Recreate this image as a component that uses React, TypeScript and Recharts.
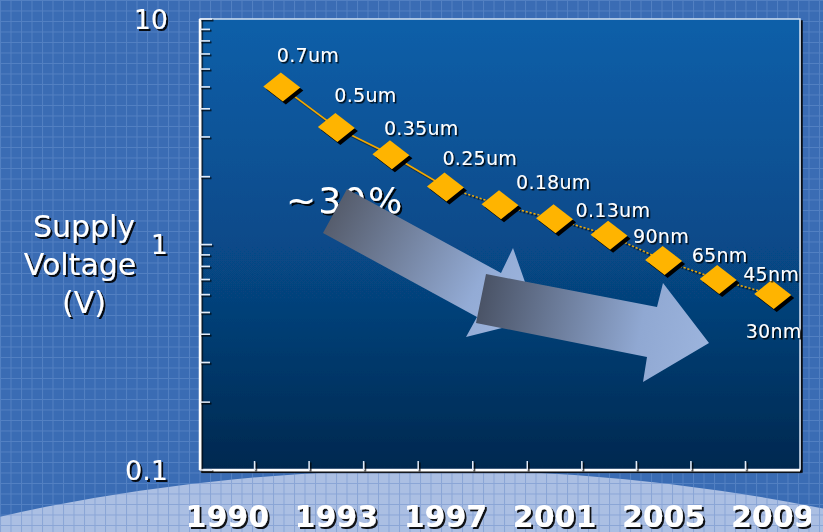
import React from "react";
import { LineChart, Line, XAxis, YAxis, ReferenceArea, LabelList } from "recharts";

// process nodes and their core supply voltage
const NODES = ["0.7um", "0.5um", "0.35um", "0.25um", "0.18um", "0.13um", "90nm", "65nm", "45nm", "30nm"];
const VOLTAGE = [5, 3.3, 2.5, 1.8, 1.5, 1.3, 1.1, 0.85, 0.7, 0.6];
// category slot each node sits in (11 slots along the time axis)
const NODE_SLOT = [1, 2, 3, 4, 5, 6, 7, 8, 9, 10];
const SLOT_COUNT = 11;
// year labels and the slot they are centred on
const YEARS = ["1990", "1993", "1997", "2001", "2005", "2009"];
const YEAR_SLOT = [0, 2, 4, 6, 8, 10];
// log axis: labelled decades + minor ticks
const Y_LABELS = [0.1, 1, 10];
const Y_MINOR = [0.2, 0.3, 0.4, 0.5, 0.6, 0.7, 0.8, 0.9, 2, 3, 4, 5, 6, 7, 8, 9];
// last node of the solid segment, dotted afterwards
const SOLID_END = 3;

// label placement relative to each diamond (dx, dy of text left / middle)
const LABEL_POS: [number, number][] = [
  [-5, -32], [-2, -33], [-7, -27], [-3, -29], [16, -23],
  [21, -9], [24, 1], [28, -5], [25, -5], [-27, 36],
];

const W = 823;
const H = 532;
const Y_AXIS_W = 200;
const X_AXIS_H = 62;
const PLOT_LEFT = Y_AXIS_W;
const PLOT_BOTTOM = H - X_AXIS_H;
const GRID = 10.5;
const FONT = "'DejaVu Sans', Verdana, sans-serif";

const rows = NODES.map((node, i) => ({
  x: NODE_SLOT[i] + 0.5,
  node,
  v: VOLTAGE[i],
  solid: i <= SOLID_END ? VOLTAGE[i] : null,
  dotted: i >= SOLID_END ? VOLTAGE[i] : null,
}));

const xTicks = [
  ...Array.from({ length: SLOT_COUNT + 1 }, (_, i) => i),
  ...YEAR_SLOT.map((s) => s + 0.5),
];
const yTicks = [...Y_LABELS, ...Y_MINOR].sort((a, b) => a - b);

const YTick = ({ y, payload }: any) => {
  const v = payload.value;
  const major = Y_LABELS.includes(v);
  const x = PLOT_LEFT;
  return (
    <g>
      <line x1={x} x2={x + (major ? 12 : 10)} y1={y} y2={y} stroke="#e3ebf7" strokeWidth={1.5} filter="url(#dropSm)" />
      {major && (
        <text x={x - 32} y={y} textAnchor="end" dominantBaseline="central" fill="#fff"
          fontSize={27} fontFamily={FONT} filter="url(#drop)">
          {String(v)}
        </text>
      )}
    </g>
  );
};

const XTick = ({ x, payload }: any) => {
  const v = payload.value;
  const y = PLOT_BOTTOM;
  if (Number.isInteger(v)) {
    if (v === 0 || v === SLOT_COUNT) return <g />;
    return <line x1={x} x2={x} y1={y} y2={y - 9} stroke="#e3ebf7" strokeWidth={1.5} filter="url(#dropSm)" />;
  }
  const k = YEAR_SLOT.indexOf(v - 0.5);
  if (k < 0) return <g />;
  return (
    <text x={x} y={y + 46} textAnchor="middle" dominantBaseline="central" fill="#fff"
      fontSize={30} fontWeight="bold" fontFamily={FONT} filter="url(#drop)" clipPath="url(#labelClip)">
      {YEARS[k]}
    </text>
  );
};

const renderDiamond = (p: any) => {
  const { cx, cy, index } = p;
  if (cx == null || cy == null) return <g key={index} />;
  const pts = (dx: number, dy: number) =>
    `${cx - 1 + dx},${cy - 14.5 + dy} ${cx + 18.5 + dx},${cy + 0.5 + dy} ${cx + 1 + dx},${cy + 14.5 + dy} ${cx - 18.5 + dx},${cy - 0.5 + dy}`;
  return (
    <g key={index}>
      <polygon points={pts(3, 3)} fill="#000" />
      <polygon points={pts(0, 0)} fill="#ffb400" />
    </g>
  );
};

const NodeLabel = (p: any) => {
  const { x, y, value, index } = p;
  const [dx, dy] = LABEL_POS[index] || [0, -30];
  return (
    <text x={x + dx} y={y + dy} dominantBaseline="central" fill="#fff" fontSize={19}
      letterSpacing={0.3} fontFamily={FONT} filter="url(#dropSm)">
      {value}
    </text>
  );
};

function Backdrop() {
  return (
    <svg width={W} height={H} style={{ position: "absolute", left: 0, top: 0 }}>
      <defs>
        <pattern id="gridBlue" width={GRID} height={GRID} patternUnits="userSpaceOnUse">
          <rect width={GRID} height={GRID} fill="#3a6cb4" />
          <path d={`M0 0.5H${GRID}M0.5 0V${GRID}`} stroke="#5380c2" strokeWidth={1} />
        </pattern>
        <pattern id="gridPale" width={GRID} height={GRID} patternUnits="userSpaceOnUse">
          <rect width={GRID} height={GRID} fill="#abbfe3" />
          <path d={`M0 0.5H${GRID}M0.5 0V${GRID}`} stroke="#8aa5d6" strokeWidth={1} />
        </pattern>
        <filter id="drop" filterUnits="userSpaceOnUse" x={-100} y={-100} width={1100} height={800}>
          <feDropShadow dx={2} dy={2} stdDeviation={0.3} floodColor="#000" floodOpacity={0.9} />
        </filter>
        <filter id="dropSm" filterUnits="userSpaceOnUse" x={-100} y={-100} width={1100} height={800}>
          <feDropShadow dx={1.5} dy={1.5} stdDeviation={0.2} floodColor="#000" floodOpacity={0.9} />
        </filter>
        <clipPath id="labelClip">
          <rect x={0} y={0} width={811} height={H} />
        </clipPath>
        <linearGradient id="plotFill" x1="0" y1="0" x2="0" y2="1">
          <stop offset="0" stopColor="#0d5fa9" />
          <stop offset="0.5" stopColor="#074a89" />
          <stop offset="1" stopColor="#03284f" />
        </linearGradient>
      </defs>
      <rect width={W} height={H} fill="url(#gridBlue)" />
      <ellipse cx={430} cy={950} rx={1000} ry={480} fill="url(#gridPale)" />
      <g fill="#fff" fontSize={30} fontFamily={FONT} textAnchor="middle" filter="url(#drop)">
        <text x={84} y={237}>Supply</text>
        <text x={80} y={275}>Voltage</text>
        <text x={84} y={313}>(V)</text>
      </g>
    </svg>
  );
}

function Arrows() {
  return (
    <svg width={W} height={H} style={{ position: "absolute", left: 0, top: 0, pointerEvents: "none" }}>
      <defs>
        <linearGradient id="arrowA" gradientUnits="userSpaceOnUse" x1={335} y1={211} x2={538} y2={319}>
          <stop offset="0" stopColor="#565d6d" />
          <stop offset="0.7" stopColor="#93abd5" />
          <stop offset="1" stopColor="#a0b7df" />
        </linearGradient>
        <linearGradient id="arrowB" gradientUnits="userSpaceOnUse" x1={481} y1={298} x2={709} y2={343}>
          <stop offset="0" stopColor="#4a5366" />
          <stop offset="0.7" stopColor="#90a8d2" />
          <stop offset="1" stopColor="#9cb4dd" />
        </linearGradient>
      </defs>
      <text x={286} y={213} fill="#fff" fontSize={36} letterSpacing={2} fontFamily={FONT} filter="url(#drop)">
        ~30%
      </text>
      <polygon
        points="347,189 501,273 513,248 538,319 466,337 477,317 323,233"
        fill="url(#arrowA)"
      />
      <polygon
        points="486,274 657,307 663,283 709,343 643,382 647,357 476,323"
        fill="url(#arrowB)"
      />
    </svg>
  );
}

export default function App() {
  return (
    <div style={{ position: "fixed", left: 0, top: 0, width: W, height: H, overflow: "hidden" }}>
      <Backdrop />
      <div style={{ position: "absolute", left: 0, top: 0 }}>
        <LineChart width={W} height={H} data={rows} margin={{ top: 19, right: 23, left: 0, bottom: 0 }}>
          <ReferenceArea
            x1={0}
            x2={SLOT_COUNT}
            y1={0.1}
            y2={10}
            fill="url(#plotFill)"
            fillOpacity={1}
            stroke="#d4e2f4"
            strokeWidth={1.5}
            filter="url(#drop)"
          />
          <XAxis
            dataKey="x"
            type="number"
            domain={[0, SLOT_COUNT]}
            ticks={xTicks}
            interval={0}
            height={X_AXIS_H}
            tickSize={0}
            tickMargin={0}
            tickLine={false}
            tick={<XTick />}
            axisLine={{ stroke: "#ffffff", strokeWidth: 2.5, filter: "url(#dropSm)" }}
          />
          <YAxis
            type="number"
            scale="log"
            domain={[0.1, 10]}
            allowDataOverflow
            ticks={yTicks}
            interval={0}
            width={Y_AXIS_W}
            tickSize={0}
            tickMargin={0}
            tickLine={false}
            tick={<YTick />}
            axisLine={{ stroke: "#ffffff", strokeWidth: 2.5, filter: "url(#dropSm)" }}
          />
          <Line dataKey="solid" stroke="#f2a900" strokeWidth={1.5} dot={false} connectNulls={false}
            isAnimationActive={false} filter="url(#dropSm)" />
          <Line dataKey="dotted" stroke="#f2a900" strokeWidth={1.5} strokeDasharray="2 2" dot={false}
            connectNulls={false} isAnimationActive={false} filter="url(#dropSm)" />
          <Line dataKey="v" stroke="none" dot={renderDiamond} activeDot={false} isAnimationActive={false}>
            <LabelList dataKey="node" content={NodeLabel} />
          </Line>
        </LineChart>
      </div>
      <Arrows />
    </div>
  );
}
